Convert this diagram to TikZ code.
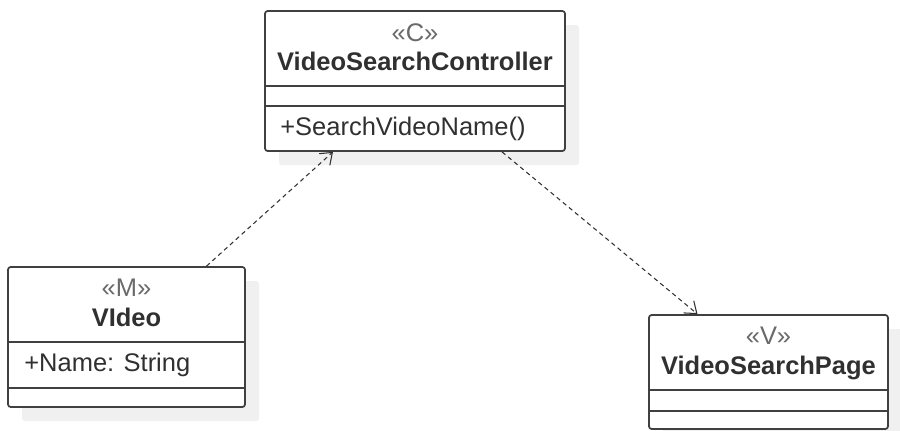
\documentclass[tikz,border=0pt]{standalone}
\usepackage{fontspec}
\setmainfont{Liberation Sans}
\usepackage{tikz}
\usetikzlibrary{shadows, arrows.meta, positioning, calc}
\definecolor{umlline}{HTML}{404040}
\definecolor{umltext}{HTML}{303030}
\definecolor{umlstereo}{HTML}{6A6A6A}
\definecolor{umlshadow}{HTML}{F0F0F0}

\begin{document}
\begin{tikzpicture}[x=0.02cm,y=-0.02cm,
    classbox/.style={draw=umlline,line width=1pt,rounded corners=1.5pt,fill=white,inner sep=0pt,
      drop shadow={shadow xshift=8pt,shadow yshift=-8pt,fill=umlshadow,opacity=1}},
    stereo/.style={anchor=base,text=umlstereo,font=\fontsize{14.5}{17}\selectfont},
    cname/.style={anchor=base,text=umltext,font=\fontsize{14.5}{17}\selectfont\bfseries},
    member/.style={anchor=base west,text=umltext,font=\fontsize{14.5}{17}\selectfont},
    divider/.style={draw=umlline,line width=1pt},
    dep/.style={draw=umltext,line width=0.6pt,dash pattern=on 2.5pt off 2pt,
      -{Straight Barb[length=6pt,width=9pt]}}]
        \useasboundingbox (0,0) rectangle (900,430);
        % class boxes
        \node[classbox,minimum width=6cm,minimum height=2.8cm] (ctrl) at (415,81) {};
        \node[classbox,minimum width=4.74cm,minimum height=2.8cm] (video) at (126.5,337) {};
        \node[classbox,minimum width=4.78cm,minimum height=2.28cm] (page) at (768.5,372) {};
        % controller
        \node[stereo] (ctrlst) at ($(ctrl.north)+(0,31)$) {«C»};
        \node[cname] (ctrlname) at ($(ctrl.north)+(0,60)$) {VideoSearchController};
        \draw[divider] ($(ctrl.north west)+(0,76)$) -- ($(ctrl.north east)+(0,76)$);
        \draw[divider] ($(ctrl.north west)+(0,96)$) -- ($(ctrl.north east)+(0,96)$);
        \node[member] (ctrlop) at ($(ctrl.north west)+(10,125)$) {+SearchVideoName()};
        % video
        \node[stereo] (videost) at ($(video.north)+(0,30)$) {«M»};
        \node[cname] (videoname) at ($(video.north)+(0,60)$) {VIdeo};
        \draw[divider] ($(video.north west)+(0,76)$) -- ($(video.north east)+(0,76)$);
        \draw[divider] ($(video.north west)+(0,122)$) -- ($(video.north east)+(0,122)$);
        \node[member] (videoattr) at ($(video.north west)+(11,105)$) {+Name: String};
        % page
        \node[stereo] (pagest) at ($(page.north)+(0,30)$) {«V»};
        \node[cname] (pagename) at ($(page.north)+(0,60)$) {VideoSearchPage};
        \draw[divider] ($(page.north west)+(0,76)$) -- ($(page.north east)+(0,76)$);
        \draw[divider] ($(page.north west)+(0,97)$) -- ($(page.north east)+(0,97)$);
        % dependencies
        \coordinate (videotop) at ($(video.north)+(80,0)$);
        \coordinate (ctrlin) at ($(ctrl.south)+(-82,0)$);
        \coordinate (ctrlout) at ($(ctrl.south)+(87,0)$);
        \coordinate (pagetop) at ($(page.north)+(-71,0)$);
        \draw[dep] (videotop) -- (ctrlin);
        \draw[dep] (ctrlout) -- (pagetop);
      \end{tikzpicture}
\end{document}
